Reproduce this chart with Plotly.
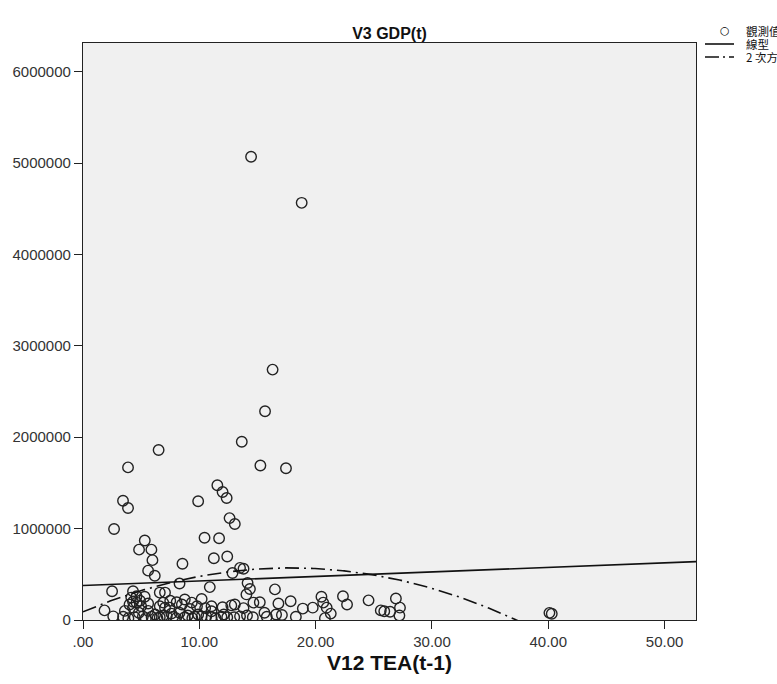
import numpy as np
import plotly.graph_objects as go

# ---------------- data ----------------
tea_x = [
    14.45, 18.8, 16.3, 15.65, 13.65, 6.5, 15.25, 17.45, 3.87, 11.55,
    12.0, 12.35, 3.44, 9.9, 3.87, 12.6, 13.05, 2.67, 5.31, 10.45,
    11.7, 4.82, 5.88, 5.97, 11.25, 12.4, 8.55, 5.6, 6.17, 12.85,
    13.5, 13.8, 2.5, 4.3, 8.3, 10.9, 14.15, 14.35, 16.5, 6.6,
    7.05, 4.15, 4.6, 5.3, 4.6, 4.0, 4.3, 5.0, 1.85, 6.6,
    7.05, 7.45, 8.05, 8.75, 9.35, 10.2, 9.2, 11.05, 11.05, 12.75,
    13.05, 14.05, 14.65, 15.2, 15.6, 16.6, 16.8, 17.85, 17.1, 18.3,
    18.9, 19.75, 20.5, 20.65, 20.95, 21.3, 22.35, 22.7, 24.55, 25.6,
    25.9, 26.9, 27.25, 27.2, 40.1, 40.3,
    2.6, 3.45, 4.45, 5.15, 5.9, 6.6, 7.2, 7.75, 8.75, 9.6,
    10.2, 11.05, 11.9, 12.4, 13.5, 14.6, 15.8,
    3.6, 4.8, 5.6, 6.2, 6.9, 7.6, 8.3, 9.0, 9.9, 10.6,
    12.1, 13.0, 14.1,
    4.3, 4.9, 5.6, 6.9, 7.5, 8.5, 9.8, 10.5, 12.0, 13.8,
    3.9, 5.4, 6.4, 8.0, 9.4, 11.4, 20.8, 26.4,
]
gdp_y = [
    5070000, 4565000, 2740000, 2285000, 1950000, 1860000, 1690000, 1660000, 1670000, 1475000,
    1400000, 1335000, 1305000, 1300000, 1225000, 1115000, 1050000, 995000, 870000, 900000,
    895000, 770000, 770000, 655000, 675000, 695000, 615000, 540000, 485000, 515000,
    570000, 560000, 315000, 315000, 400000, 360000, 405000, 340000, 335000, 300000,
    300000, 245000, 260000, 255000, 190000, 170000, 135000, 150000, 105000, 150000,
    135000, 135000, 195000, 225000, 190000, 230000, 120000, 150000, 95000, 160000,
    170000, 280000, 190000, 195000, 80000, 60000, 180000, 205000, 55000, 35000,
    125000, 135000, 255000, 190000, 135000, 70000, 260000, 170000, 215000, 105000,
    95000, 235000, 135000, 50000, 78000, 68000,
    40000, 35000, 30000, 40000, 35000, 30000, 40000, 35000, 30000, 35000,
    40000, 30000, 35000, 30000, 40000, 30000, 35000,
    100000, 80000, 100000, 60000, 50000, 70000, 80000, 50000, 60000, 40000,
    60000, 30000, 50000,
    200000, 210000, 180000, 190000, 210000, 170000, 150000, 130000, 140000, 130000,
    20000, 20000, 20000, 20000, 20000, 20000, 20000, 90000,
]

# fitted curves (coefficients)
linear_coef = [377000, 4970]              # intercept, slope
quad_coef = [90000, 53850, -1510]          # c, b, a

x_range = [0, 52.7]
y_range = [0, 6314000]
x_ticks = [0, 10, 20, 30, 40, 50]
x_tick_text = [".00", "10.00", "20.00", "30.00", "40.00", "50.00"]
y_ticks = [0, 1000000, 2000000, 3000000, 4000000, 5000000, 6000000]
y_tick_text = ["0", "1000000", "2000000", "3000000", "4000000", "5000000", "6000000"]
legend_labels = ["觀測值", "線型", "2 次方程式"]

# ---------------- figure ----------------
xs = np.linspace(x_range[0], x_range[1], 400)
lin_y = linear_coef[0] + linear_coef[1] * xs
quad_y = quad_coef[0] + quad_coef[1] * xs + quad_coef[2] * xs ** 2

fig = go.Figure()
fig.add_trace(go.Scatter(
    x=tea_x, y=gdp_y, mode="markers", name=legend_labels[0],
    marker=dict(symbol="circle-open", size=10.5, color="#222222", line=dict(width=1.4)),
    showlegend=False, cliponaxis=True,
))
fig.add_trace(go.Scatter(
    x=xs, y=lin_y, mode="lines", name=legend_labels[1],
    line=dict(color="#111111", width=1.6), showlegend=False,
))
fig.add_trace(go.Scatter(
    x=xs, y=quad_y, mode="lines", name=legend_labels[2],
    line=dict(color="#111111", width=1.6, dash="14px,5px,2px,5px"), showlegend=False,
))

font_main = "Liberation Sans, Arial, sans-serif"
cjk = "Noto Sans CJK TC, Liberation Sans, sans-serif"

fig.update_layout(
    width=777, height=684,
    margin=dict(l=83, r=81, t=43, b=64, autoexpand=False),
    paper_bgcolor="white", plot_bgcolor="#f0f0f0",
    title=dict(text="<b>V3 GDP(t)</b>", x=0.5, xref="paper", xanchor="center",
               y=1 - 33 / 684, yanchor="middle",
               font=dict(family=font_main, size=16, color="#111")),
    showlegend=False,
    xaxis=dict(range=x_range, tickvals=x_ticks, ticktext=x_tick_text,
               showgrid=False, zeroline=False, showline=True, linecolor="#222",
               linewidth=1.2, mirror=True, ticks="outside", ticklen=8, tickwidth=1.2,
               tickcolor="#222",
               tickfont=dict(family=font_main, size=15, color="#333"),
               title=dict(text="<b>V12 TEA(t-1)</b>", standoff=6,
                          font=dict(family=font_main, size=21, color="#111"))),
    yaxis=dict(range=y_range, tickvals=y_ticks, ticktext=y_tick_text,
               showgrid=False, zeroline=False, showline=True, linecolor="#222",
               linewidth=1.2, mirror=True, ticks="outside", ticklen=8, tickwidth=1.2,
               tickcolor="#222",
               tickfont=dict(family=font_main, size=15, color="#333")),
)

# legend drawn at the right edge (clipped by the page like the original)
def px_x(p):
    return (p - 83) / 613


def px_y(p):
    return 1 + (43 - p) / 577


legend_rows_y = [31, 44, 57]
for lab, ypx in zip(legend_labels, legend_rows_y):
    fig.add_annotation(
        xref="paper", yref="paper", x=px_x(745), y=px_y(ypx),
        xanchor="left", yanchor="middle", showarrow=False, borderpad=0,
        text=lab, align="left", font=dict(family=cjk, size=11.5, color="#111"),
    )
# symbols
fig.add_annotation(
    xref="paper", yref="paper", x=px_x(725), y=px_y(legend_rows_y[0]),
    xanchor="center", yanchor="middle", showarrow=False, borderpad=0,
    text="○", font=dict(family="DejaVu Sans", size=11, color="#000"),
)
fig.add_shape(type="line", xref="paper", yref="paper",
              x0=px_x(705), x1=px_x(734), y0=px_y(legend_rows_y[1]), y1=px_y(legend_rows_y[1]),
              line=dict(color="#111", width=1.6))
fig.add_shape(type="line", xref="paper", yref="paper",
              x0=px_x(705), x1=px_x(734), y0=px_y(legend_rows_y[2]), y1=px_y(legend_rows_y[2]),
              line=dict(color="#111", width=1.6, dash="14px,4px,2px,4px"))

fig.write_html("out.html")
